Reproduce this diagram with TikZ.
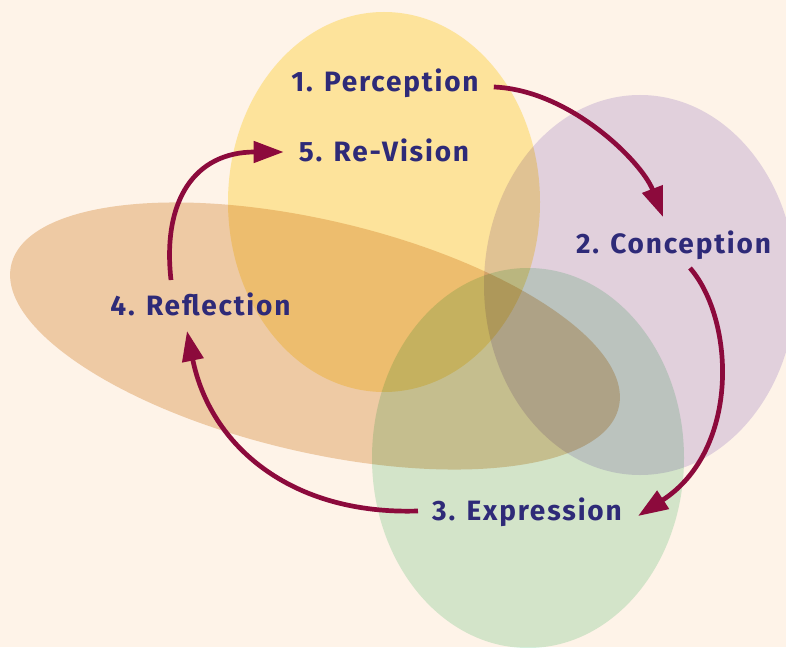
\documentclass[tikz,border=0pt]{standalone}
\usepackage{fontspec}
\setmainfont{Fira Sans}[LetterSpace=6.5]
\usetikzlibrary{arrows.meta}
\definecolor{bgc}{HTML}{FEF3E8}
\definecolor{yelc}{HTML}{FEEFAB}
\definecolor{orac}{HTML}{EFD5B5}
\definecolor{purc}{HTML}{E2DBF2}
\definecolor{grnc}{HTML}{D4F0DD}
\definecolor{arrc}{HTML}{8C0A3C}
\definecolor{txtc}{HTML}{2E2A78}
\tikzset{
  blob/.style={blend mode=multiply},
  lbl/.style={inner sep=0pt, anchor=base, text=txtc, font=\fontsize{28}{30}\selectfont\bfseries},
  flow/.style={draw=arrc, line width=4.7pt, -{Triangle[length=30pt,width=21pt]}}
}
\begin{document}
\begin{tikzpicture}[x=1pt,y=-1pt]
\fill[bgc] (0,0) rectangle (786,647);
\useasboundingbox (0,0) rectangle (786,647);
\fill[yelc, blob] (384,202) ellipse [x radius=156pt, y radius=190pt];
\fill[orac, blob, rotate around={-13.2:(315,336)}] (315,336) ellipse [x radius=312pt, y radius=116pt];
\fill[purc, blob] (640,285) ellipse [x radius=156pt, y radius=190pt];
\fill[grnc, blob] (528,458) ellipse [x radius=156pt, y radius=190pt];
\node[lbl] (p) at (385,92) {1. Perception};
\node[lbl] (r) at (384,162) {5. Re-Vision};
\node[lbl] (c) at (673.5,253) {2. Conception};
\node[lbl] (f) at (200.5,315) {4. Reflection};
\node[lbl] (e) at (527,520) {3. Expression};
\draw[flow] ([xshift=15pt,yshift=5pt]p.base east) .. controls (570,90) and (642,162) .. ([xshift=-10.5pt,yshift=36pt]c.base);
\draw[flow] ([xshift=16.5pt,yshift=-15pt]c.base) .. controls (735,320) and (740,450) .. ([xshift=16pt,yshift=4pt]e.base east);
\draw[flow] ([xshift=-14pt,yshift=9pt]e.base west) .. controls (290,515) and (210,445) .. ([xshift=-13.5pt,yshift=-16pt]f.base);
\draw[flow] ([xshift=-29.5pt,yshift=35pt]f.base) .. controls (162,200) and (195,152) .. ([xshift=-15pt,yshift=10pt]r.base west);
\end{tikzpicture}
\end{document}
